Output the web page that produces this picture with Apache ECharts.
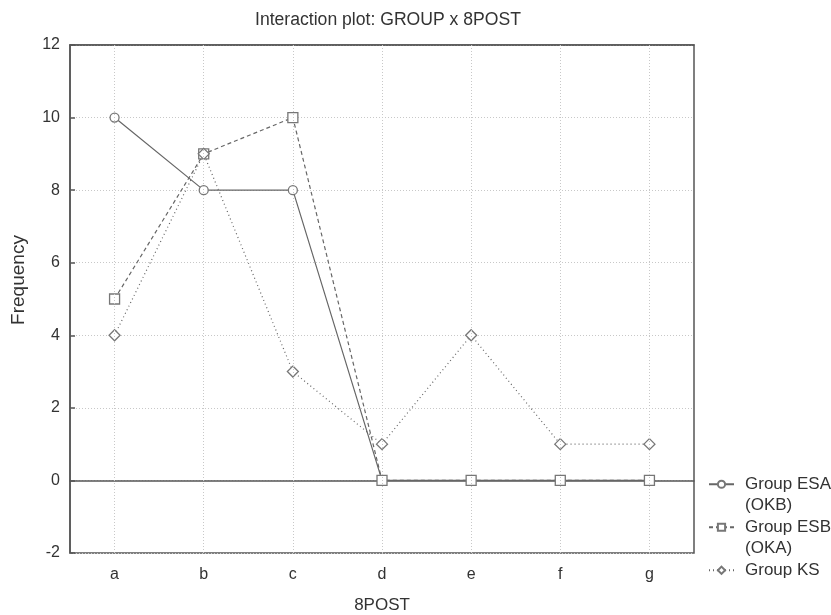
<!DOCTYPE html>
<html>
<head>
<meta charset="utf-8">
<script src="https://cdn.jsdelivr.net/npm/echarts@6/dist/echarts.min.js"></script>
<style>
  html, body { margin: 0; padding: 0; background: #fff; }
  #chart { width: 831px; height: 615px; }
</style>
</head>
<body>
<div id="chart"></div>
<script>
// Levels of 8POST and frequencies per group
const categories = ['a', 'b', 'c', 'd', 'e', 'f', 'g'];
const groupESA = [10, 8, 8, 0, 0, 0, 0];
const groupESB = [5, 9, 10, 0, 0, 0, 0];
const groupKS = [4, 9, 3, 1, 4, 1, 1];
const seriesNames = ['Group ESA\n(OKB)', 'Group ESB\n(OKA)', 'Group KS'];

const font = 'Liberation Sans, Arial, sans-serif';
const axisColor = '#555';
const textColor = '#333';
const lineColor = '#666';
const markColor = '#777';
const gridColor = '#c8c8c8';

const chart = echarts.init(document.getElementById('chart'));

function lineSeries(name, data, type, symbol, size) {
  return {
    name: name,
    type: 'line',
    data: data,
    symbol: symbol,
    symbolSize: size,
    showAllSymbol: true,
    z: 3,
    lineStyle: { color: lineColor, width: 1.2, type: type },
    itemStyle: { color: '#fff', borderColor: markColor, borderWidth: 1.3 },
    emphasis: { disabled: true },
    animation: false
  };
}

// Legend text is padded to three lines so the icon sits beside the first line of each entry
function legendLabel(name) {
  const lines = name.split('\n');
  while (lines.length < 2) lines.push('');
  return '\n' + lines.join('\n');
}

chart.setOption({
  backgroundColor: '#fff',
  animation: false,
  title: {
    text: 'Interaction plot: GROUP x 8POST',
    left: 383,
    textAlign: 'center',
    top: 6,
    textStyle: { fontFamily: font, fontSize: 17.6, fontWeight: 'normal', color: textColor }
  },
  grid: {
    left: 70, right: 137, top: 45, bottom: 62,
    outerBoundsMode: 'none',
    containLabel: false,
    show: true, borderColor: axisColor, borderWidth: 1.5, backgroundColor: 'transparent'
  },
  legend: {
    orient: 'vertical',
    left: 708,
    top: 452,
    padding: 0,
    itemWidth: 25,
    itemHeight: 9,
    itemGap: -21.5,
    formatter: legendLabel,
    textStyle: {
      fontFamily: font, fontSize: 17, color: textColor, lineHeight: 21.5,
      padding: [0, 0, 0, 6]
    },
    data: seriesNames
  },
  xAxis: [{
    type: 'category',
    data: categories,
    boundaryGap: true,
    name: '8POST',
    nameLocation: 'middle',
    nameGap: 44,
    nameTextStyle: { fontFamily: font, fontSize: 17, color: textColor },
    axisLine: { lineStyle: { color: axisColor, width: 1.5 } },
    axisTick: { inside: true, alignWithLabel: true, length: 5, lineStyle: { color: axisColor, width: 1.5 } },
    axisLabel: { fontFamily: font, fontSize: 16, color: textColor, margin: 14 },
    splitLine: { show: false }
  }, {
    type: 'category',
    data: categories,
    position: 'top',
    boundaryGap: true,
    axisLine: { lineStyle: { color: axisColor, width: 1.5 } },
    axisTick: { inside: true, alignWithLabel: true, length: 5, lineStyle: { color: axisColor, width: 1.5 } },
    axisLabel: { show: false },
    splitLine: { show: false }
  }],
  yAxis: {
    type: 'value',
    min: -2, max: 12, interval: 2,
    name: 'Frequency',
    nameLocation: 'middle',
    nameGap: 42,
    nameTextStyle: { fontFamily: font, fontSize: 19, color: textColor, padding: [0, 0, 0, 38] },
    axisLine: { show: true, lineStyle: { color: axisColor, width: 1.5 } },
    axisTick: { show: true, inside: true, length: 5, lineStyle: { color: axisColor, width: 1.5 } },
    axisLabel: { fontFamily: font, fontSize: 16, color: textColor, margin: 10 },
    splitLine: { show: true, lineStyle: { color: gridColor, type: [1, 2], width: 1 } }
  },
  series: [
    // vertical dotted grid lines through each category
    {
      type: 'line',
      data: [],
      silent: true,
      z: 1,
      markLine: {
        silent: true,
        symbol: 'none',
        animation: false,
        label: { show: false },
        lineStyle: { color: gridColor, type: [1, 2], width: 1 },
        data: categories.map(c => ({ xAxis: c }))
      }
    },
    lineSeries(seriesNames[0], groupESA, 'solid', 'circle', 9),
    lineSeries(seriesNames[1], groupESB, [4, 3], 'rect', 10),
    lineSeries(seriesNames[2], groupKS, [1, 3], 'diamond', 11)
  ]
});
</script>
</body>
</html>
